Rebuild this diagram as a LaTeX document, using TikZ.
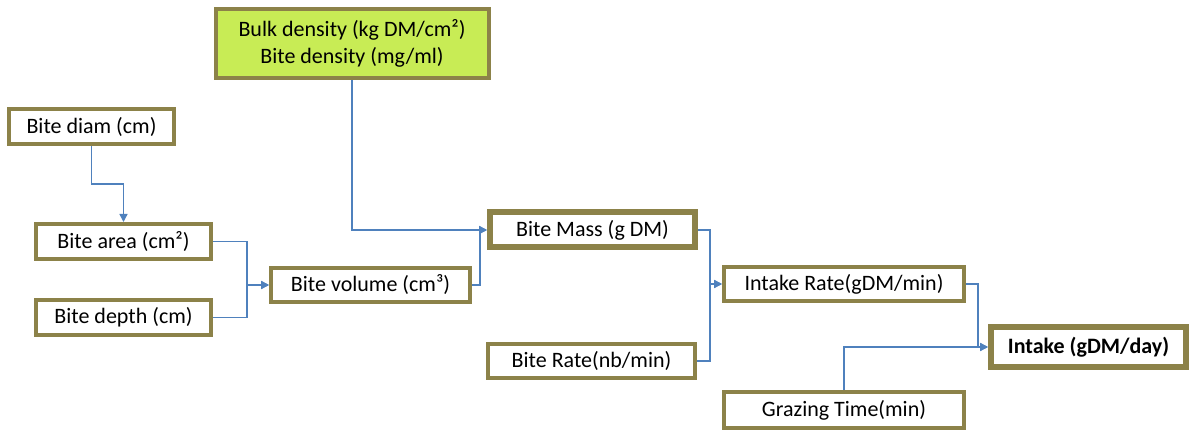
\documentclass[tikz,border=0pt]{standalone}
\usepackage{fontspec}
\setmainfont{Carlito}
\usetikzlibrary{arrows.meta, positioning, calc}

\definecolor{boxline}{HTML}{8C8249}
\definecolor{boxgreen}{HTML}{C8EC55}
\definecolor{linkblue}{HTML}{4F81BD}

\begin{document}
\begin{tikzpicture}[x=0.5pt,y=-0.5pt]
  % Styles
  \tikzset{
    var/.style={draw=boxline,line width=2pt,fill=white,inner sep=0pt,
      font=\fontsize{11}{13.4}\selectfont,align=center},
    keyvar/.style={var,line width=3pt},
    input/.style={var,fill=boxgreen},
    link/.style={draw=linkblue,line width=0.7pt,-{Triangle[length=4pt,width=4pt]}}
  }

  \useasboundingbox (0,0) rectangle (1191,432);

  % Boxes
  \node[input,minimum width=136.5pt,minimum height=34.5pt] (bulk) at (352,43.5)
    {Bulk density (kg DM/cm²)\\Bite density (mg/ml)};
  \node[var,minimum width=82.5pt,minimum height=17.5pt] (diam) at (91.5,126.5) {Bite diam (cm)};
  \node[var,minimum width=87.5pt,minimum height=17.5pt] (area) at (123.5,241.5) {Bite area (cm²)};
  \node[var,minimum width=87.5pt,minimum height=17.5pt] (depth) at (123.5,317.5) {Bite depth (cm)};
  \node[var,minimum width=99.5pt,minimum height=17pt] (volume) at (370.5,285) {Bite volume (cm³)};
  \node[keyvar,minimum width=102.5pt,minimum height=17.5pt] (mass) at (592.5,230) {Bite Mass (g DM)};
  \node[var,minimum width=103.5pt,minimum height=17pt] (biterate) at (591.5,361) {Bite Rate(nb/min)};
  \node[var,minimum width=120pt,minimum height=17pt] (rate) at (844,284) {Intake Rate(gDM/min)};
  \node[var,minimum width=120pt,minimum height=18pt] (grazing) at (844,410) {Grazing Time(min)};
  \node[keyvar,minimum width=97.5pt,minimum height=20pt,font=\fontsize{11}{13.4}\selectfont\bfseries]
    (intake) at (1088.5,347) {Intake (gDM/day)};

  % Links
  \draw[link] (diam.south) -- ($(diam.south)!0.5!(diam.south |- area.north)$) -| (area.north);
  \draw[link] (area.east) -- ++(34,0) |- (volume.west);
  \draw[link] (depth.east) -- ++(34,0) |- (volume.west);
  \draw[link] (bulk.south) |- (mass.west);
  \draw[link] (volume.east) -- ++(8,0) |- (mass.west);
  \draw[link] (mass.east) -- ++(12,0) |- (rate.west);
  \draw[link] (biterate.east) -- ++(13,0) |- (rate.west);
  \draw[link] (rate.east) -- ++(12,0) |- (intake.west);
  \draw[link] (grazing.north) |- (intake.west);
\end{tikzpicture}
\end{document}
